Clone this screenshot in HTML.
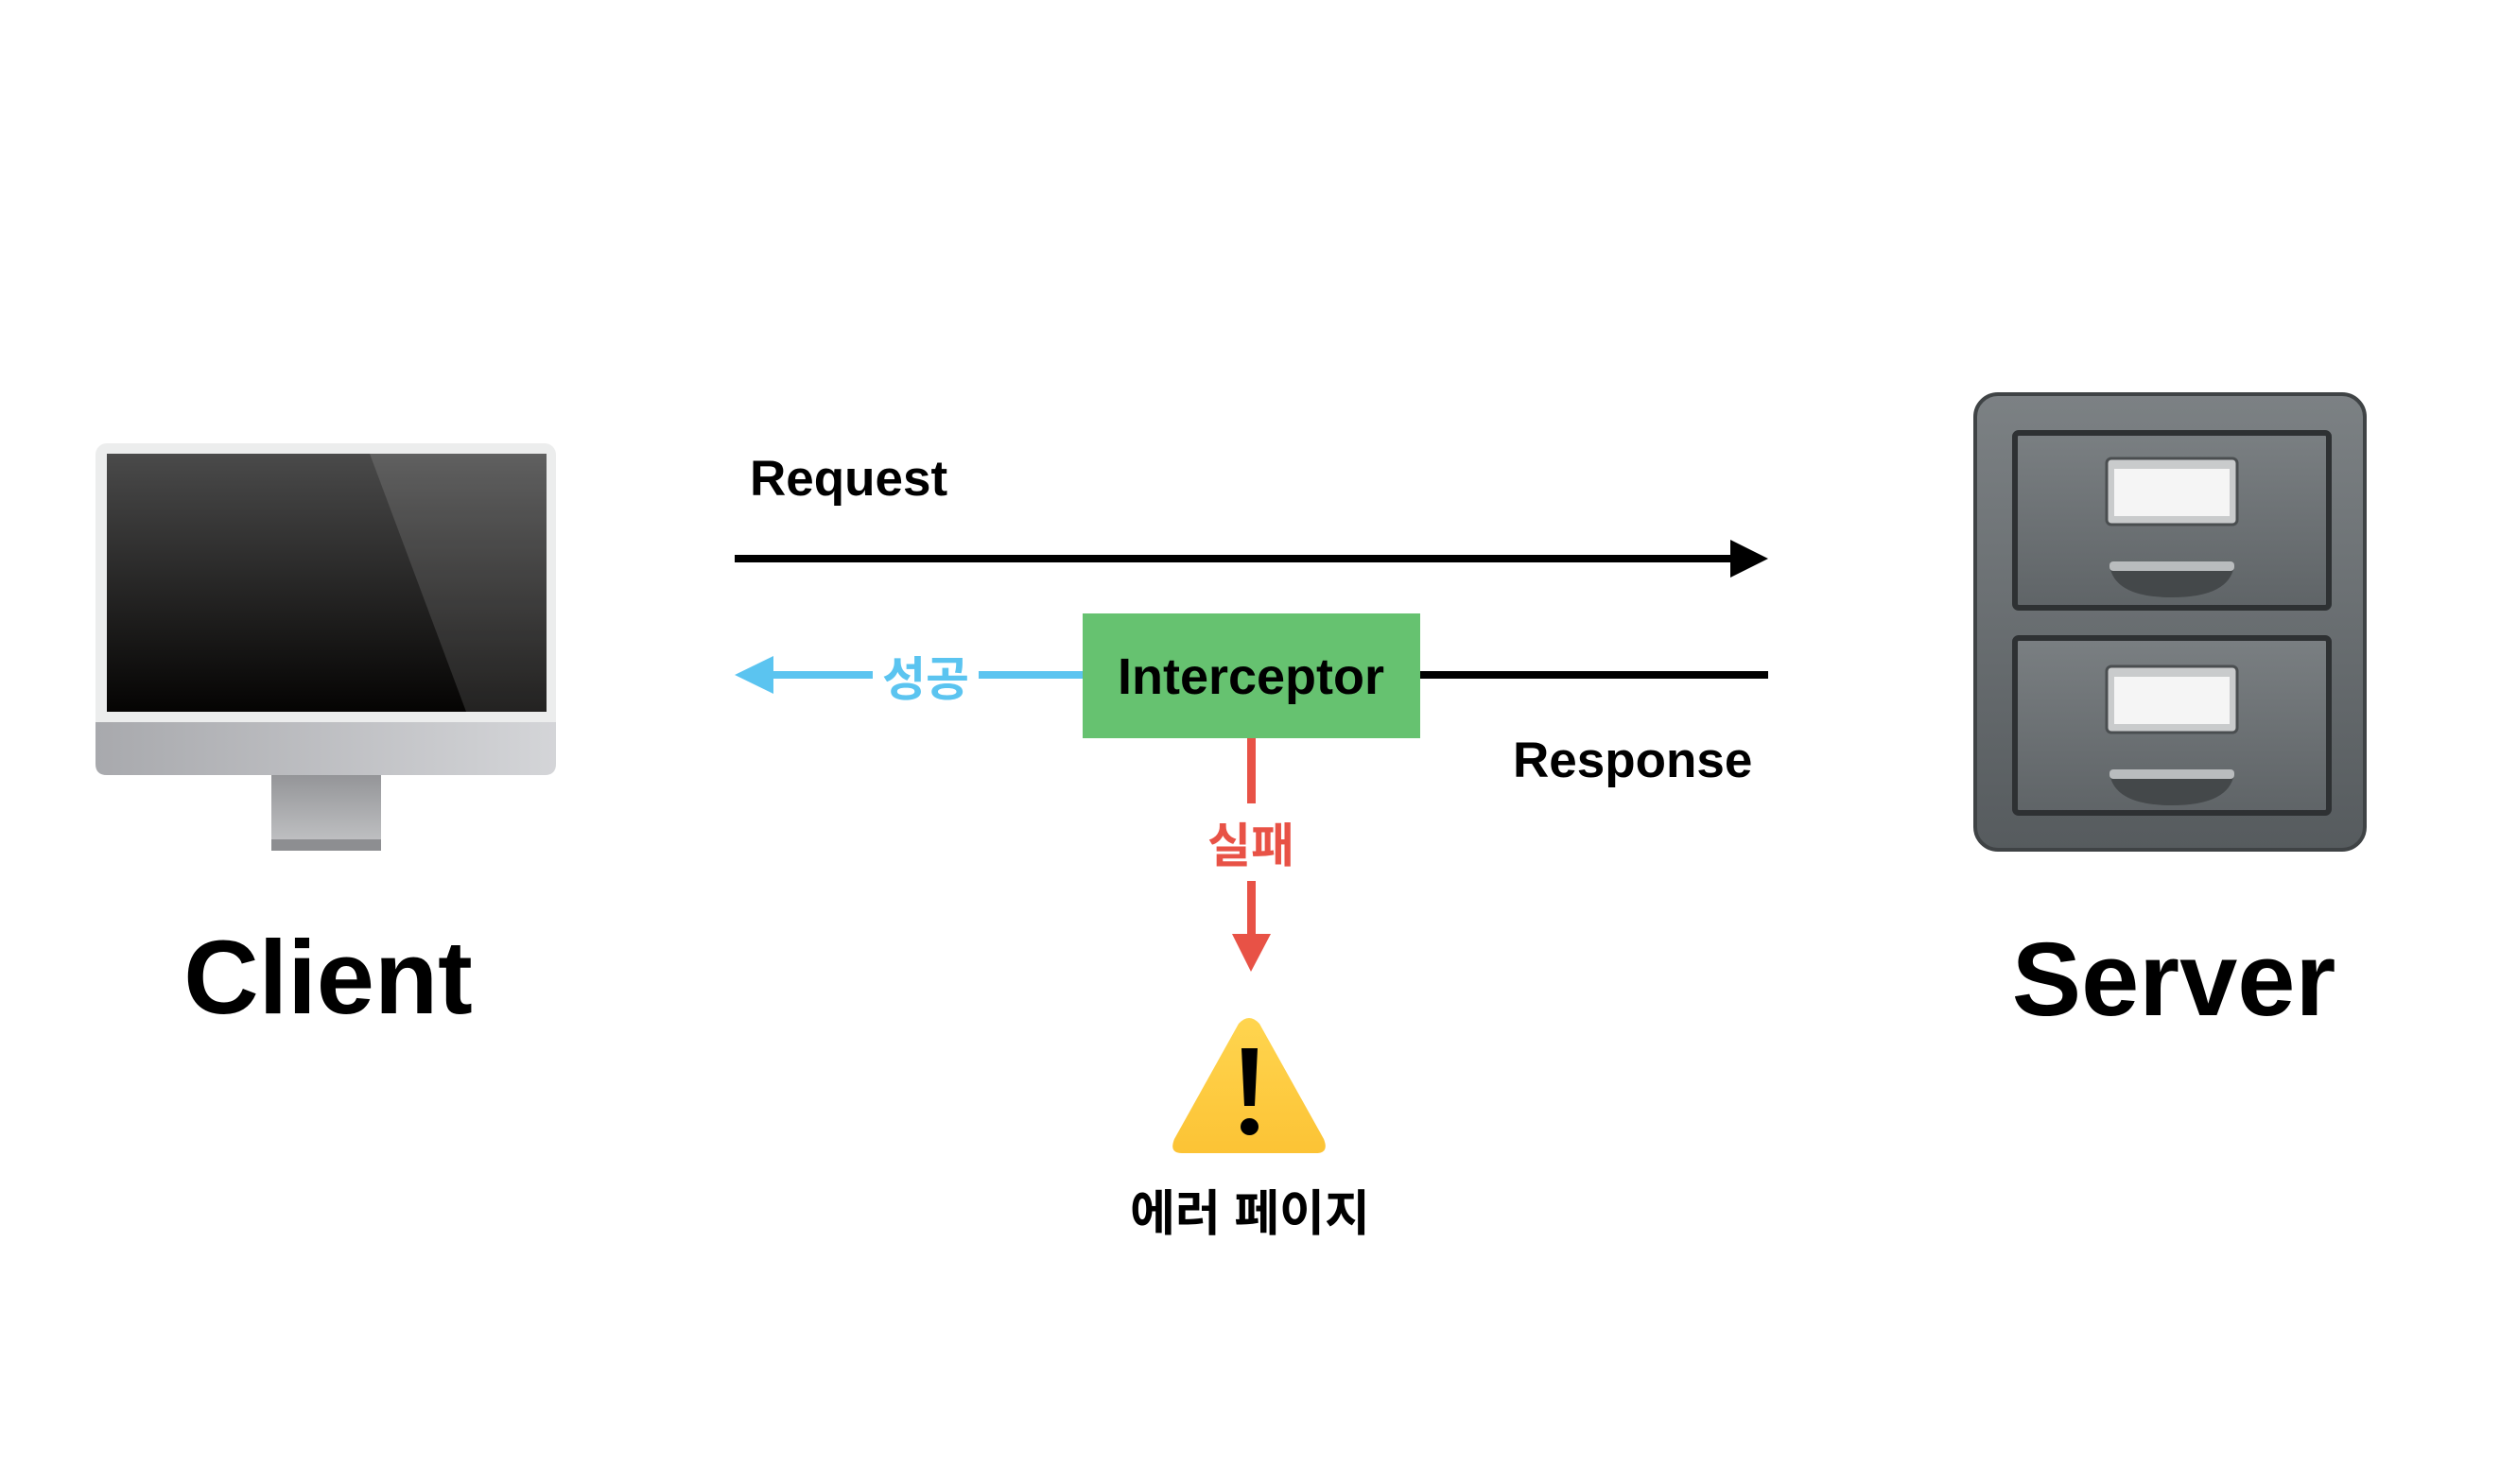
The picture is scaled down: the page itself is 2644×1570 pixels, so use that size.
<!DOCTYPE html>
<html><head><meta charset="utf-8"><style>
html,body{margin:0;padding:0;background:#fff;}
svg{display:block;}
text{font-family:"Liberation Sans","Noto Sans CJK KR",sans-serif;font-weight:bold;}
</style></head><body>
<svg width="2644" height="1570" viewBox="0 0 2644 1570" xmlns="http://www.w3.org/2000/svg">
<defs>
<linearGradient id="scr" x1="0" y1="0" x2="0" y2="1"><stop offset="0" stop-color="#4a4a4a"/><stop offset="1" stop-color="#050403"/></linearGradient>
<linearGradient id="chin" x1="0" y1="0" x2="1" y2="0"><stop offset="0" stop-color="#a8a9ad"/><stop offset="1" stop-color="#d4d5d8"/></linearGradient>
<linearGradient id="stand" x1="0" y1="0" x2="0" y2="1"><stop offset="0" stop-color="#949598"/><stop offset="1" stop-color="#c5c6c8"/></linearGradient>
<linearGradient id="cab" x1="0" y1="0" x2="0" y2="1"><stop offset="0" stop-color="#7c8184"/><stop offset="1" stop-color="#565b5e"/></linearGradient>
<linearGradient id="drw" x1="0" y1="0" x2="0" y2="1"><stop offset="0" stop-color="#7a7f82"/><stop offset="1" stop-color="#5f6467"/></linearGradient>
<linearGradient id="warn" x1="0" y1="0" x2="0" y2="1"><stop offset="0" stop-color="#ffd54f"/><stop offset="1" stop-color="#fcc335"/></linearGradient>
</defs>
<!-- Monitor -->
<rect x="101" y="469" width="487" height="351" rx="12" fill="#eceded"/>
<rect x="113" y="480" width="465" height="273" fill="url(#scr)"/>
<polygon points="391,480 578,480 578,753 493,753" fill="#fff" opacity="0.12"/>
<path d="M101,764 H588 V808 Q588,820 576,820 H113 Q101,820 101,808 Z" fill="url(#chin)"/>
<rect x="287" y="820" width="116" height="80" fill="url(#stand)"/>
<rect x="287" y="888" width="116" height="12" fill="#8d8e91"/>
<!-- Server cabinet -->
<rect x="2089" y="417" width="412" height="482" rx="24" fill="url(#cab)" stroke="#3f4345" stroke-width="4"/>
<rect x="2131" y="458" width="332" height="185" rx="4" fill="url(#drw)" stroke="#2e3133" stroke-width="6"/>
<rect x="2131" y="675" width="332" height="185" rx="4" fill="url(#drw)" stroke="#2e3133" stroke-width="6"/>
<rect x="2228" y="485" width="138" height="70" rx="5" fill="#c9cbcc" stroke="#4a4e50" stroke-width="3"/>
<rect x="2236" y="496" width="122" height="50" fill="#f5f5f5"/>
<path d="M2231,598 H2363 Q2358,632 2297,632 Q2236,632 2231,598 Z" fill="#44484a"/>
<rect x="2231" y="594" width="132" height="10" rx="4" fill="#b9bcbe"/>
<rect x="2228" y="705" width="138" height="70" rx="5" fill="#c9cbcc" stroke="#4a4e50" stroke-width="3"/>
<rect x="2236" y="716" width="122" height="50" fill="#f5f5f5"/>
<path d="M2231,818 H2363 Q2358,852 2297,852 Q2236,852 2231,818 Z" fill="#44484a"/>
<rect x="2231" y="814" width="132" height="10" rx="4" fill="#b9bcbe"/>
<!-- Request -->
<text x="793" y="524" font-size="53">Request</text>
<rect x="777" y="587" width="1058" height="8" fill="#000"/>
<polygon points="1830,571 1870,591 1830,611" fill="#000"/>
<!-- Response -->
<rect x="1502" y="710" width="368" height="8" fill="#000"/>
<text x="1600" y="822" font-size="53">Response</text>
<!-- Interceptor -->
<rect x="1145" y="649" width="357" height="132" fill="#66c270"/>
<text x="1323" y="734" font-size="54" text-anchor="middle">Interceptor</text>
<!-- 성공 -->
<polygon points="777,714 818,694 818,734" fill="#5bc4f0"/>
<rect x="816" y="710" width="107" height="8" fill="#5bc4f0"/>
<rect x="1035" y="710" width="110" height="8" fill="#5bc4f0"/>
<text x="979" y="736" font-size="50" fill="#5bc4f0" text-anchor="middle">성공</text>
<!-- 실패 -->
<rect x="1319" y="781" width="9" height="69" fill="#e85246"/>
<text x="1323" y="912" font-size="50" fill="#e85246" text-anchor="middle">실패</text>
<rect x="1319" y="932" width="9" height="60" fill="#e85246"/>
<polygon points="1303,988 1344,988 1323,1028" fill="#e85246"/>
<!-- Warning -->
<path d="M1310,1083 Q1321,1071 1332,1083 L1400,1205 Q1406,1220 1392,1220 H1250 Q1236,1220 1242,1205 Z" fill="url(#warn)"/>
<polygon points="1313,1109 1330,1109 1327,1170 1316,1170" fill="#000"/>
<ellipse cx="1321.5" cy="1192" rx="9.5" ry="9" fill="#000"/>
<text x="1322" y="1302" font-size="52" text-anchor="middle">에러 페이지</text>
<!-- Labels -->
<text x="347" y="1072" font-size="110" text-anchor="middle">Client</text>
<text x="2299" y="1074" font-size="110" text-anchor="middle">Server</text>
</svg>
</body></html>
